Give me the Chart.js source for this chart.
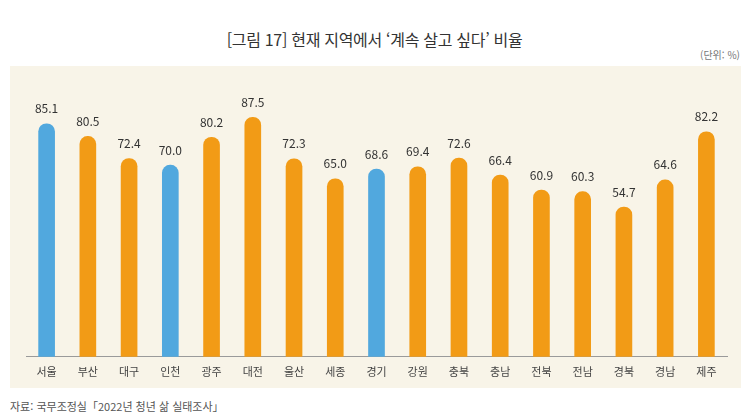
<!DOCTYPE html>
<html lang="ko">
<head>
<meta charset="utf-8">
<script src="https://cdn.jsdelivr.net/npm/chart.js@4/dist/chart.umd.min.js"></script>
<style>
  html, body { margin: 0; padding: 0; background: #fff; }
  body { width: 749px; height: 416px; position: relative; overflow: hidden;
         font-family: "Noto Sans CJK KR", "Noto Sans", sans-serif; }
  #title { position: absolute; left: 0; width: 749px; top: 27px; text-align: center;
           font-size: 16px; color: #333; letter-spacing: -0.3px; }
  #unit { position: absolute; right: 9px; top: 47px; font-size: 10px; color: #777; }
  #panel { position: absolute; left: 10px; top: 66px; width: 731px; height: 322px; background: #f8f4e8; }
  #footer { position: absolute; left: 10px; top: 398px; font-size: 11px; color: #555; }
</style>
</head>
<body>
<div id="title">[그림 17] 현재 지역에서 ‘계속 살고 싶다’ 비율</div>
<div id="unit">(단위: %)</div>
<div id="panel"><canvas id="chart" width="731" height="322"></canvas></div>
<div id="footer">자료: 국무조정실「2022년 청년 삶 실태조사」</div>
<script>
// regions and share (%) who want to keep living where they are
const regions = ['서울', '부산', '대구', '인천', '광주', '대전', '울산', '세종', '경기',
  '강원', '충북', '충남', '전북', '전남', '경북', '경남', '제주'];
const values = [85.1, 80.5, 72.4, 70.0, 80.2, 87.5, 72.3, 65.0, 68.6,
  69.4, 72.6, 66.4, 60.9, 60.3, 54.7, 64.6, 82.2];
const capitalArea = ['서울', '인천', '경기'];

const BLUE = '#51a8de';
const ORANGE = '#f29b16';

/**
 * Draw value labels above each bar
 */
const valueLabels = {
  id: 'valueLabels',
  afterDatasetsDraw(chart) {
    const ctx = chart.ctx;
    const meta = chart.getDatasetMeta(0);
    ctx.save();
    ctx.font = '12px "Noto Sans CJK KR", sans-serif';
    ctx.fillStyle = '#333';
    ctx.textAlign = 'center';
    ctx.textBaseline = 'bottom';
    meta.data.forEach((bar, i) => {
      ctx.fillText(values[i].toFixed(1), bar.x, bar.y - 9);
    });
    ctx.restore();
  },
};

new Chart(document.getElementById('chart'), {
  type: 'bar',
  data: {
    labels: regions,
    datasets: [{
      data: values,
      backgroundColor: regions.map(r => capitalArea.includes(r) ? BLUE : ORANGE),
      barThickness: 16,
      borderRadius: { topLeft: 8, topRight: 8 },
      borderSkipped: 'bottom',
    }],
  },
  options: {
    responsive: false,
    animation: false,
    layout: { padding: { top: 17, left: 16, right: 14, bottom: 2 } },
    plugins: {
      legend: { display: false },
      tooltip: { enabled: false },
    },
    scales: {
      x: {
        grid: { display: false, drawTicks: false },
        border: { display: true, color: '#9a9a9a', width: 1 },
        ticks: {
          color: '#444',
          padding: 8,
          font: { size: 11, family: "'Noto Sans CJK KR', sans-serif" },
        },
      },
      y: {
        display: false,
        min: 0,
        max: 100,
      },
    },
  },
  plugins: [valueLabels],
});
</script>
</body>
</html>
